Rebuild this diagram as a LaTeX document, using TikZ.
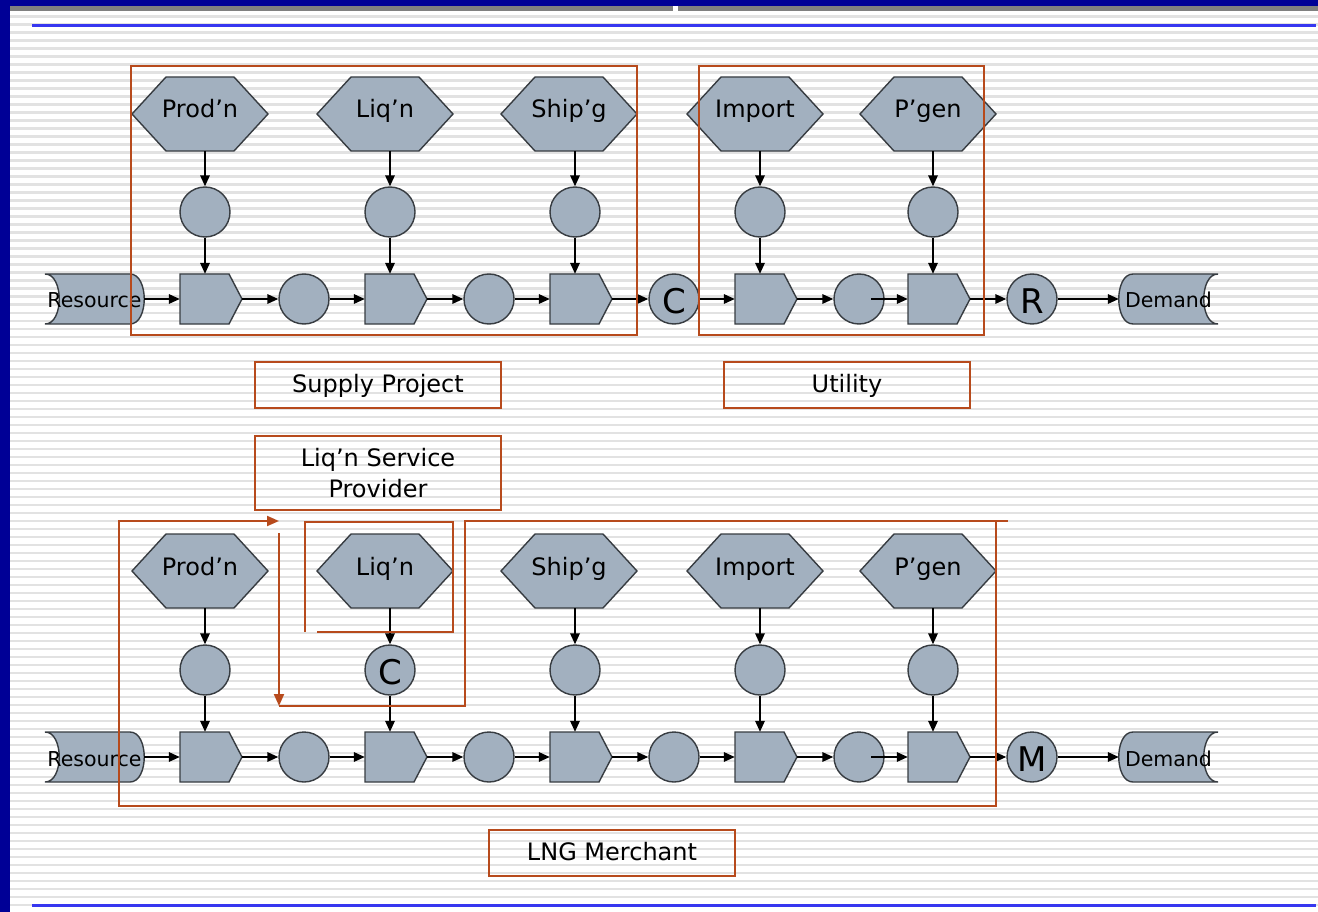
\documentclass[tikz,border=0pt]{standalone}
\usepackage{fontspec}
\setmainfont{DejaVu Sans}
\usetikzlibrary{arrows.meta}
\definecolor{navy}{RGB}{0,0,150}
\definecolor{barblue}{RGB}{55,55,240}
\definecolor{shapefill}{RGB}{162,176,191}
\definecolor{shapeedge}{RGB}{55,60,65}
\definecolor{frameclr}{RGB}{183,74,28}
\definecolor{stripe}{RGB}{226,226,226}
\definecolor{topbar}{RGB}{128,128,128}

\tikzset{
  shp/.style={fill=shapefill, draw=shapeedge, line width=1.4pt, line join=miter},
  conn/.style={draw=black, line width=1.7pt, -{Triangle[length=11pt,width=9.5pt]}},
  frm/.style={draw=frameclr, line width=2pt},
  frmarrow/.style={frm, -{Triangle[length=12pt,width=10pt]}},
  hexlbl/.style={minimum width=136pt, minimum height=74pt, inner sep=0pt,
    text height=16pt, text depth=8pt, font=\fontsize{24}{29}\selectfont},
  pentnode/.style={minimum width=62pt, minimum height=50pt, inner sep=0pt},
  dot/.style={circle, shp, minimum size=50pt, inner sep=0pt,
    text height=28pt, text depth=0pt, font=\fontsize{34}{40}\selectfont},
  storenode/.style={minimum width=99pt, minimum height=50pt, inner sep=0pt,
    text height=18pt, text depth=0pt, font=\fontsize{20.5}{24}\selectfont},
  lblbox/.style={frm, minimum width=246pt, minimum height=46pt, inner sep=0pt,
    align=center, font=\fontsize{24}{31.7}\selectfont},
  lblone/.style={lblbox, text height=17.5pt, text depth=2pt},
}

% hexagon: name, centre x, centre y, text
\newcommand\HexAt[4]{%
  \path[shp] ({#2-68},#3) -- ({#2-34},{#3-37}) -- ({#2+34},{#3-37}) -- ({#2+68},#3)
     -- ({#2+34},{#3+37}) -- ({#2-34},{#3+37}) -- cycle;
  \node[hexlbl] (#1) at (#2,#3) {#4};}
% pentagon (process): name, column x, centre y
\newcommand\PentAt[3]{%
  \path[shp] ({#2-25},{#3-25}) -- ({#2+24},{#3-25}) -- ({#2+37},#3)
     -- ({#2+24},{#3+25}) -- ({#2-25},{#3+25}) -- cycle;
  \node[pentnode] (#1) at ({#2+6},#3) {};}
% resource shape: left x, centre y
\newcommand\ResShape[2]{%
  \path[shp] (#1,{#2-25}) -- ({#1+85},{#2-25})
     .. controls ({#1+104},{#2-25}) and ({#1+104},{#2+25}) .. ({#1+85},{#2+25})
     -- (#1,{#2+25})
     .. controls ({#1+19},{#2+25}) and ({#1+19},{#2-25}) .. (#1,{#2-25}) -- cycle;}
% demand shape: left flat start x, centre y
\newcommand\DemShape[2]{%
  \path[shp] (#1,{#2-25}) -- ({#1+85},{#2-25})
     .. controls ({#1+66},{#2-25}) and ({#1+66},{#2+25}) .. ({#1+85},{#2+25})
     -- (#1,{#2+25})
     .. controls ({#1-19},{#2+25}) and ({#1-19},{#2-25}) .. (#1,{#2-25}) -- cycle;}

\begin{document}
\begin{tikzpicture}[x=1pt,y=-1pt]
\useasboundingbox (0,0) rectangle (1318,912);

% ---------- background ----------
\fill[white] (0,0) rectangle (1318,912);
\foreach \k in {0,...,111}
  \draw[stripe, line width=2.4pt] (10,{16.7+8*\k}) -- (1318,{16.7+8*\k});
\fill[navy] (0,0) rectangle (10,912);
\fill[navy] (0,0) rectangle (1318,6);
\fill[topbar] (10,6) rectangle (1318,11.5);
\fill[white] (673,6) rectangle (678,12);
\draw[barblue, line width=3pt] (32,26) -- (1316,26);
\draw[barblue, line width=3pt] (32,905) -- (1316,905);

% ---------- top chain ----------
\foreach \i/\hx/\cx/\t in {1/200/205/Prod’n, 2/385/390/Liq’n, 3/569/575/Ship’g,
                            4/755/760/Import, 5/928/933/P’gen} {
  \HexAt{ht\i}{\hx}{114}{\t}
  \node[dot] (vt\i) at (\cx,212) {};
  \PentAt{pt\i}{\cx}{299}
  \draw[conn] (ht\i.south -| vt\i) -- (vt\i.north);
  \draw[conn] (vt\i.south) -- (vt\i.south |- pt\i.north);
}
\ResShape{45}{299}
\node[storenode] (rest) at (94.5,299) {Resource};
\DemShape{1133}{299}
\node[storenode] (demt) at (1168.5,299) {Demand};
\node[dot] (mt1) at (304,299) {};
\node[dot] (mt2) at (489,299) {};
\node[dot] (mt3) at (674,299) {C};
\node[dot] (mt4) at (859,299) {};
\node[dot] (mt5) at (1032,299) {R};

\draw[conn] (rest.east) -- (pt1.west);
\foreach \a/\b in {1/2,2/3,3/4} {
  \draw[conn] (pt\a.east) -- (mt\a.west);
  \draw[conn] (mt\a.east) -- (pt\b.west);
}
\draw[conn] (pt4.east) -- (mt4.west);
\draw[conn] ([xshift=12pt]mt4.center) -- (pt5.west);
\draw[conn] (pt5.east) -- (mt5.west);
\draw[conn] (mt5.east) -- (demt.west);

% ---------- bottom chain ----------
\foreach \i/\hx/\cx/\t in {1/200/205/Prod’n, 2/385/390/Liq’n, 3/569/575/Ship’g,
                            4/755/760/Import, 5/928/933/P’gen} {
  \HexAt{hb\i}{\hx}{571}{\t}
  \PentAt{pb\i}{\cx}{757}
}
\foreach \i/\cx/\t in {1/205/{}, 2/390/C, 3/575/{}, 4/760/{}, 5/933/{}} {
  \node[dot] (vb\i) at (\cx,670) {\t};
  \draw[conn] (hb\i.south -| vb\i) -- (vb\i.north);
  \draw[conn] (vb\i.south) -- (vb\i.south |- pb\i.north);
}
\ResShape{45}{757}
\node[storenode] (resb) at (94.5,757) {Resource};
\DemShape{1133}{757}
\node[storenode] (demb) at (1168.5,757) {Demand};
\node[dot] (mb1) at (304,757) {};
\node[dot] (mb2) at (489,757) {};
\node[dot] (mb3) at (674,757) {};
\node[dot] (mb4) at (859,757) {};
\node[dot] (mb5) at (1032,757) {M};

\draw[conn] (resb.east) -- (pb1.west);
\foreach \a/\b in {1/2,2/3,3/4} {
  \draw[conn] (pb\a.east) -- (mb\a.west);
  \draw[conn] (mb\a.east) -- (pb\b.west);
}
\draw[conn] (pb4.east) -- (mb4.west);
\draw[conn] ([xshift=12pt]mb4.center) -- (pb5.west);
\draw[conn] (pb5.east) -- (mb5.west);
\draw[conn] (mb5.east) -- (demb.west);

% ---------- frames ----------
\draw[frm] (131,66) rectangle (637,335);
\draw[frm] (699,66) rectangle (984,335);

\draw[frmarrow] (996,521) -- (996,806) -- (119,806) -- (119,521) -- (279,521);
\draw[frmarrow] (279,533) -- (279,706);
\draw[frm] (279,706) -- (465,706) -- (465,521) -- (1008,521);
\draw[frm] (317,632) -- (453,632) -- (453,522) -- (305,522) -- (305,632);

% ---------- labels ----------
\node[lblone] (lsup) at (378,385) {Supply Project};
\node[lblone] (lutil) at (847,385) {Utility};
\node[lblbox, minimum height=74pt] (lliq) at (378,473) {Liq’n Service\\Provider};
\node[lblone] (llng) at (612,853) {LNG Merchant};
\end{tikzpicture}
\end{document}
